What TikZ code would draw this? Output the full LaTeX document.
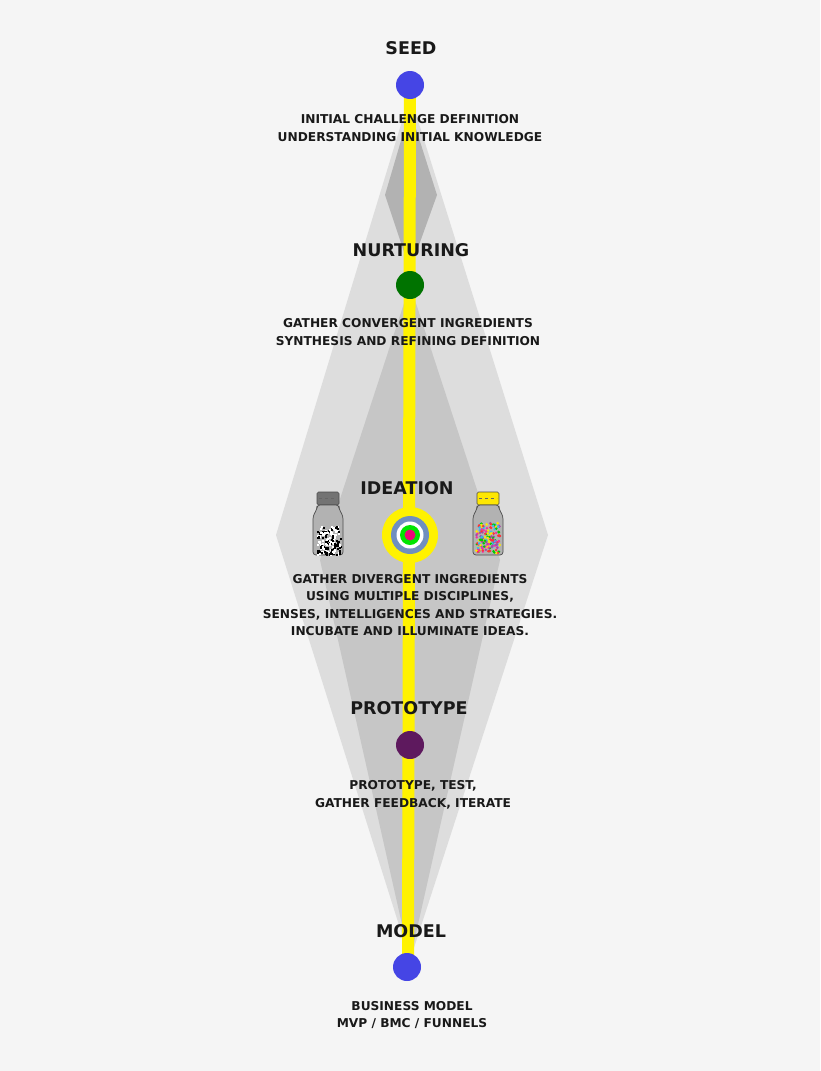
\documentclass[tikz,border=0pt]{standalone}
\usepackage{fontspec}
\setmainfont{DejaVu Sans}
\definecolor{bg}{HTML}{F5F5F5}
\definecolor{g1}{HTML}{DDDDDD}
\definecolor{g2}{HTML}{C6C6C6}
\definecolor{g3}{HTML}{B2B2B2}
\begin{document}
\begin{tikzpicture}[x=1pt,y=-1pt,
  ttl/.style={font=\bfseries\fontsize{17.5}{20}\selectfont,text=black!90},
  txt/.style={font=\bfseries\fontsize{12.2}{17.5}\selectfont,align=center,text=black!90},
  dot/.style={circle,minimum size=28pt,inner sep=0pt}]
\fill[bg] (0,0) rectangle (820,1071);
\useasboundingbox (0,0) rectangle (820,1071);
\fill[g1] (410,95) -- (276,535) -- (410,960) -- (548,535) -- cycle;
\fill[g2] (410,285) -- (320,560) -- (410,960) -- (500,560) -- cycle;
\fill[g3] (410,110) -- (385,195) -- (410,270) -- (437,195) -- cycle;
\draw[yellow,line width=12pt] (410,85) -- (408,967);
\node[dot,fill=blue!70!white!90!black] (seed) at (410,85) {};
\node[dot,fill=green!45!black] (nur) at (410,285) {};
\node[dot,fill=violet!60!black!90] (proto) at (410,745) {};
\node[dot,fill=blue!70!white!90!black] (model) at (407,967) {};
\node[circle,fill=yellow,minimum size=56pt,inner sep=0pt] (idea) at (410,535) {};
\fill[cyan!50!blue!60!white!85!black] (idea) circle (19);
\fill[white] (idea) circle (13.5);
\fill[green!90!black] (idea) circle (10);
\fill[magenta!80!red] (idea) circle (5.5);
\node[ttl] (t1) at (411,48) {SEED};
\node[txt] (d1) at (410,128) {INITIAL CHALLENGE DEFINITION\\UNDERSTANDING INITIAL KNOWLEDGE};
\node[ttl] (t2) at (411,250) {NURTURING};
\node[txt] (d2) at (408,332) {GATHER CONVERGENT INGREDIENTS\\SYNTHESIS AND REFINING DEFINITION};
\node[ttl] (t3) at (407,488) {IDEATION};
\node[txt] (d3) at (410,605) {GATHER DIVERGENT INGREDIENTS\\USING MULTIPLE DISCIPLINES,\\SENSES, INTELLIGENCES AND STRATEGIES.\\INCUBATE AND ILLUMINATE IDEAS.};
\node[ttl] (t4) at (409,708) {PROTOTYPE};
\node[txt] (d4) at (413,795) {PROTOTYPE, TEST,\\GATHER FEEDBACK, ITERATE};
\node[ttl] (t5) at (411,931) {MODEL};
\node[txt] (d5) at (412,1015) {BUSINESS MODEL\\MVP / BMC / FUNNELS};
% bottles
\foreach \bx/\cap in {328/black!55,488/yellow!90!orange}{
  \fill[\cap,draw=black!70,line width=0.6pt,rounded corners=1.5pt] (\bx-11,492) rectangle (\bx+11,505);
  \draw[black!60,line width=0.5pt,dashed] (\bx-9,498) -- (\bx+9,498);
  \filldraw[fill=black!30,draw=black!70,line width=0.7pt,rounded corners=3pt]
    (\bx-11,505) -- (\bx-11,509) -- (\bx-15,516) -- (\bx-15,555) -- (\bx+15,555) -- (\bx+15,516) -- (\bx+11,509) -- (\bx+11,505) -- cycle;
}
\pgfmathsetseed{7}
\foreach \i in {1,...,140}{
  \pgfmathsetmacro{\px}{328+12*rand}
  \pgfmathsetmacro{\py}{540+14*rand}
  \pgfmathsetmacro{\c}{mod(\i,2)==0 ? 0 : 100}
  \fill[black!\c] (\px,\py) rectangle ++(2.2,2.2);
}
\foreach \i in {1,...,160}{
  \pgfmathsetmacro{\px}{488+12*rand}
  \pgfmathsetmacro{\py}{538+15*rand}
  \pgfmathtruncatemacro{\k}{mod(\i,6)}
  \ifcase\k \def\cc{red!80}\or\def\cc{green!80!black}\or\def\cc{magenta!80}\or\def\cc{cyan!80}\or\def\cc{yellow!90!orange}\else\def\cc{violet!70}\fi
  \fill[\cc] (\px,\py) circle (1.4);
}
\end{tikzpicture}
\end{document}
